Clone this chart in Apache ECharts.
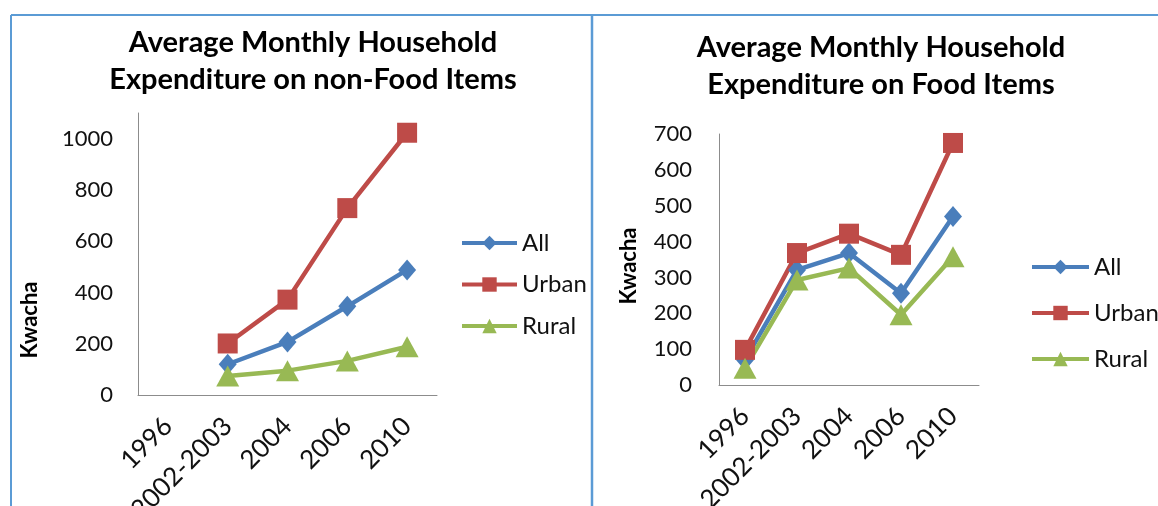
<!DOCTYPE html>
<html><head><meta charset="utf-8">
<script src="https://cdn.jsdelivr.net/npm/echarts@6/dist/echarts.min.js"></script>
<style>html,body{margin:0;padding:0;background:#fff}#c{width:1158px;height:506px}</style>
</head><body><div id="c"></div>
<script>
const categories = ['1996', '2002-2003', '2004', '2006', '2010'];
const seriesNames = ['All', 'Urban', 'Rural'];
// Non-food items
const nonFoodAll = [null, 120, 207, 346, 488];
const nonFoodUrban = [null, 201, 372, 729, 1023];
const nonFoodRural = [null, 74, 95, 133, 188];
// Food items
const foodAll = [70, 321, 368, 256, 470];
const foodUrban = [98, 368, 422, 363, 675];
const foodRural = [47, 293, 326, 196, 358];
const leftTicks = [0, 200, 400, 600, 800, 1000];
const rightTicks = [0, 100, 200, 300, 400, 500, 600, 700];

const colors = ['#4a7ebb', '#be4b48', '#98b954'];
const symbols = ['diamond', 'rect', 'triangle'];
const symbolSizes = [[18, 21], 20, [23, 21]];
const FONT = 'Lato, "Open Sans", sans-serif';

const chart = echarts.init(document.getElementById('c'));

function mk(name, data, idx, axis) {
  return {
    name: name, type: 'line', data: data,
    xAxisIndex: axis, yAxisIndex: axis,
    color: colors[idx],
    symbol: symbols[idx], symbolSize: symbolSizes[idx],
    lineStyle: {width: 4.5, color: colors[idx]},
    itemStyle: {color: colors[idx]},
    connectNulls: false, animation: false
  };
}

const axisLineStyle = {show: true, lineStyle: {color: '#8c8c8c', width: 1}};
const xLabel = {color: '#111', fontSize: 26, fontFamily: FONT, rotate: 45, margin: 27, interval: 0};
const legendText = {fontFamily: FONT, fontSize: 24, lineHeight: 24, color: '#111'};

chart.setOption({
  animation: false,
  title: [
    {text: 'Average Monthly Household\nExpenditure on non-Food Items', left: 308, top: 19, textAlign: 'center',
     textStyle: {fontFamily: FONT, fontWeight: 'bold', fontSize: 29, lineHeight: 37, color: '#000'}},
    {text: 'Average Monthly Household\nExpenditure on Food Items', left: 876, top: 24, textAlign: 'center',
     textStyle: {fontFamily: FONT, fontWeight: 'bold', fontSize: 29, lineHeight: 37, color: '#000'}}
  ],
  legend: [
    {data: seriesNames, orient: 'vertical', left: 455, top: 226, itemGap: 17.5, itemWidth: 55, itemHeight: 18,
     lineStyle: {width: 4}, textStyle: legendText},
    {data: seriesNames, orient: 'vertical', left: 1025, top: 250, itemGap: 22, itemWidth: 57, itemHeight: 18,
     lineStyle: {width: 4}, textStyle: legendText}
  ],
  grid: [
    {left: 138, top: 113, right: 1158 - 437, bottom: 506 - 395, containLabel: false, outerBoundsMode: 'none'},
    {left: 719, top: 134, right: 1158 - 979, bottom: 506 - 385, containLabel: false, outerBoundsMode: 'none'}
  ],
  xAxis: [
    {type: 'category', data: categories, gridIndex: 0, boundaryGap: true, axisTick: {show: false},
     axisLine: axisLineStyle, axisLabel: xLabel},
    {type: 'category', data: categories, gridIndex: 1, boundaryGap: true, axisTick: {show: false},
     axisLine: axisLineStyle, axisLabel: xLabel}
  ],
  yAxis: [
    {type: 'value', gridIndex: 0, min: 0, max: 1100, interval: 200, splitLine: {show: false},
     axisLine: axisLineStyle, axisTick: {show: false},
     axisLabel: {color: '#111', fontSize: 22, fontFamily: FONT, margin: 25,
       formatter: v => leftTicks.indexOf(v) >= 0 ? String(v) : ''}},
    {type: 'value', gridIndex: 1, min: 0, max: 700, interval: 100, splitLine: {show: false},
     axisLine: axisLineStyle, axisTick: {show: false},
     axisLabel: {color: '#111', fontSize: 22, fontFamily: FONT, margin: 27,
       formatter: v => rightTicks.indexOf(v) >= 0 ? String(v) : ''}}
  ],
  graphic: [
    {type: 'line', shape: {x1: 11, y1: 15, x2: 1158, y2: 15}, style: {stroke: '#5b9bd5', lineWidth: 2}},
    {type: 'line', shape: {x1: 11, y1: 15, x2: 11, y2: 506}, style: {stroke: '#5b9bd5', lineWidth: 2}},
    {type: 'line', shape: {x1: 592, y1: 15, x2: 592, y2: 506}, style: {stroke: '#5b9bd5', lineWidth: 2.5}},
    {type: 'text', x: 30, y: 320, rotation: Math.PI / 2,
     style: {text: 'Kwacha', fontFamily: FONT, fontWeight: 'bold', fontSize: 22, fill: '#000', align: 'center', verticalAlign: 'middle'}},
    {type: 'text', x: 629, y: 266, rotation: Math.PI / 2,
     style: {text: 'Kwacha', fontFamily: FONT, fontWeight: 'bold', fontSize: 22, fill: '#000', align: 'center', verticalAlign: 'middle'}}
  ],
  series: [
    mk('All', nonFoodAll, 0, 0), mk('Urban', nonFoodUrban, 1, 0), mk('Rural', nonFoodRural, 2, 0),
    mk('All', foodAll, 0, 1), mk('Urban', foodUrban, 1, 1), mk('Rural', foodRural, 2, 1)
  ]
});
</script></body></html>
